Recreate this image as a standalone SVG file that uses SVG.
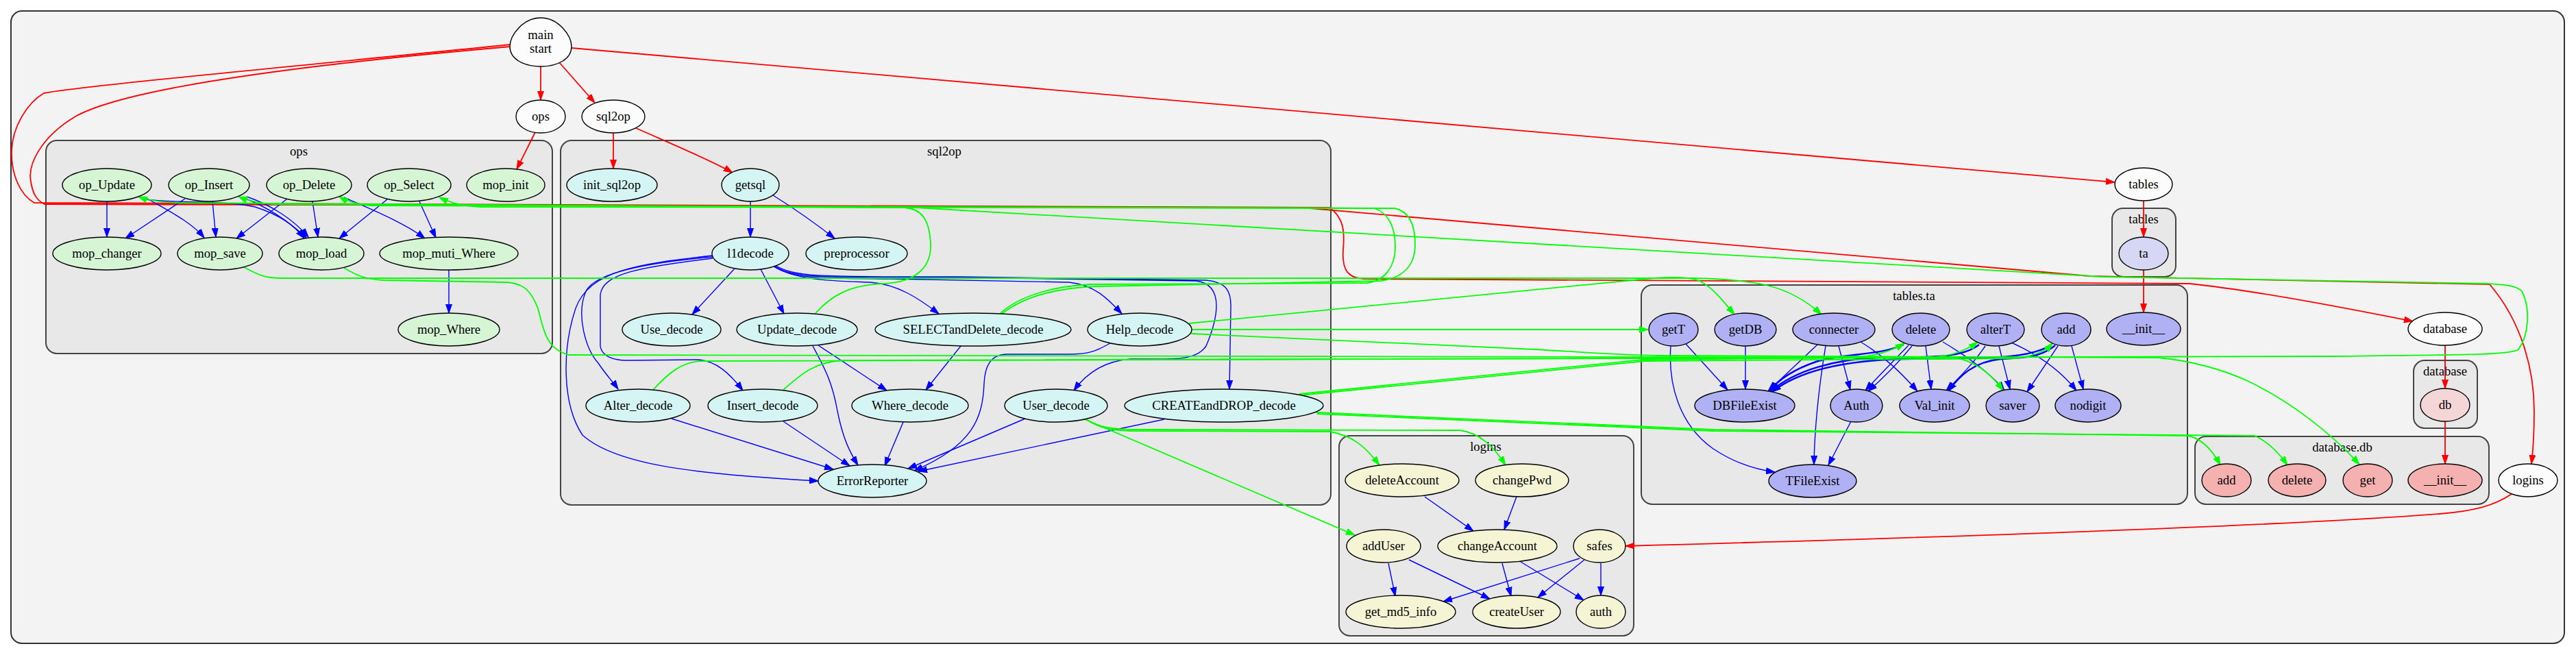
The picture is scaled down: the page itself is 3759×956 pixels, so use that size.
<svg xmlns="http://www.w3.org/2000/svg" width="3759" height="956" viewBox="0 0 3759 956">
<defs>
<marker id="mr" markerUnits="userSpaceOnUse" markerWidth="14" markerHeight="10" refX="13" refY="5" orient="auto" viewBox="0 0 14 10"><path d="M0,0.5L13,5L0,9.5z" fill="#ff0000" stroke="#ff0000"/></marker>
<marker id="mb" markerUnits="userSpaceOnUse" markerWidth="14" markerHeight="10" refX="13" refY="5" orient="auto" viewBox="0 0 14 10"><path d="M0,0.5L13,5L0,9.5z" fill="#0000ff" stroke="#0000ff"/></marker>
<marker id="mg" markerUnits="userSpaceOnUse" markerWidth="14" markerHeight="10" refX="13" refY="5" orient="auto" viewBox="0 0 14 10"><path d="M0,0.5L13,5L0,9.5z" fill="#00ff00" stroke="#00ff00"/></marker>
</defs>
<style>
text{font-family:"Liberation Serif","Times New Roman",serif;font-size:18.67px;text-anchor:middle;fill:#000}
.cl{stroke:#444;stroke-width:2}
.outer{fill:#f3f3f3;stroke:#333;stroke-width:2}
.inner{fill:#e8e8e8}
ellipse,.egg{stroke:#000;stroke-width:1.4}
.w{fill:#fcfcfc}
.op{fill:#d5f5d5}
.sq{fill:#d5f5f5}
.ta{fill:#b0b0f5}
.ta0{fill:#d6d6f5}
.lg{fill:#f5f5d5}
.db{fill:#f5b0b0}
.db0{fill:#f5d6d6}
#edges path{fill:none}
.r{stroke:#ff0000;stroke-width:1.8;marker-end:url(#mr)}
.b{stroke:#0000ff;stroke-width:1.4;marker-end:url(#mb)}
.bt{stroke:#0000ff;stroke-width:2.4;marker-end:url(#mb)}
.g{stroke:#00ff00;stroke-width:1.8;marker-end:url(#mg)}
</style>
<rect width="3759" height="956" fill="#ffffff"/>
<g id="clusters">
<rect class="outer" x="16" y="16" width="3726" height="923" rx="16"/>
<g id="cluster_ops"><rect class="cl inner" x="67" y="205" width="739" height="311" rx="16"/><text x="436" y="227">ops</text></g>
<g id="cluster_sql2op"><rect class="cl inner" x="818" y="205" width="1124" height="532" rx="16"/><text x="1378" y="227">sql2op</text></g>
<g id="cluster_tables"><rect class="cl inner" x="3082" y="304" width="93" height="100" rx="16"/><text x="3128" y="326">tables</text></g>
<g id="cluster_tables_ta"><rect class="cl inner" x="2395" y="416" width="797" height="320" rx="16"/><text x="2793" y="438">tables.ta</text></g>
<g id="cluster_logins"><rect class="cl inner" x="1954" y="636" width="430" height="292" rx="16"/><text x="2168" y="658">logins</text></g>
<g id="cluster_database"><rect class="cl inner" x="3522" y="526" width="93" height="99" rx="16"/><text x="3568" y="548">database</text></g>
<g id="cluster_database_db"><rect class="cl inner" x="3203" y="637" width="429" height="99" rx="16"/><text x="3418" y="659">database.db</text></g>
</g>
<g id="edges">
<!-- red -->
<path class="r" d="M789,97L789,146"/>
<path class="r" d="M816,91L868,150"/>
<path class="r" d="M781,193L754,247"/>
<path class="r" d="M895,194L895,246"/>
<path class="r" d="M928,187C980,210 1040,235 1069,252"/>
<path class="r" d="M834,70L3086,266"/>
<path class="r" d="M3128,293L3128,346"/>
<path class="r" d="M3128,394L3128,456"/>
<path class="r" d="M3568,504L3568,567"/>
<path class="r" d="M3568,615L3568,677"/>
<path class="r" d="M3665,721C3640,738 3610,746 3560,750C3300,770 2700,788 2372,797"/>
<path class="r" d="M745,65C500,90 120,125 64,136C40,150 18,185 17,220C16,255 30,285 50,296C150,300 1000,301 1940,303C1962,318 1962,340 1960,365C1958,395 1968,406 1990,407L3195,414C3300,425 3450,455 3521,469"/>
<path class="r" d="M745,68C550,85 200,120 110,170C60,200 40,240 45,265C48,285 55,293 65,298C200,301 1000,302 1900,303L3050,403C3300,409 3600,413 3633,415C3680,470 3698,540 3698,600C3698,640 3696,660 3694,677"/>
<!-- blue ops -->
<path class="b" d="M156,294L156,346"/>
<path class="b" d="M215,290C250,310 280,325 298,347"/>
<path class="b" d="M213,291C255,297 330,292 372,302C410,314 430,330 444,348"/>
<path class="b" d="M270,290L183,348"/>
<path class="b" d="M310,294L315,346"/>
<path class="b" d="M356,289C390,302 420,322 447,347"/>
<path class="b" d="M360,287C395,299 428,320 450,346"/>
<path class="b" d="M418,291L345,348"/>
<path class="b" d="M456,294L464,346"/>
<path class="b" d="M502,288C540,305 590,325 620,348"/>
<path class="b" d="M565,291L495,348"/>
<path class="b" d="M612,294L636,347"/>
<path class="b" d="M655,394L655,457"/>
<!-- blue sql2op -->
<path class="b" d="M1095,294L1095,346"/>
<path class="b" d="M1128,285C1160,305 1195,330 1218,348"/>
<path class="b" d="M1072,392L1010,459"/>
<path class="b" d="M1110,393L1144,458"/>
<path class="b" d="M1128,388C1160,410 1220,410 1270,412C1310,415 1340,435 1370,458"/>
<path class="b" d="M1129,389C1160,408 1200,406 1300,407L1560,412C1600,416 1620,440 1637,458"/>
<path class="b" d="M1130,388C1160,407 1200,405 1400,405L1745,410C1790,415 1775,470 1760,505C1750,520 1730,524 1700,524L1650,524C1610,527 1585,545 1567,570"/>
<path class="b" d="M1131,387C1160,405 1200,404 1400,404L1760,409C1790,412 1797,425 1796,450L1794,568"/>
<path class="b" d="M1040,375C960,382 870,395 855,425C840,460 855,510 873,530C885,548 895,558 902,568"/>
<path class="b" d="M1040,377C930,390 880,400 876,430L876,505C878,520 895,526 915,526L1020,525C1045,527 1065,545 1084,570"/>
<path class="b" d="M1040,373C930,385 860,395 840,450C820,510 820,590 850,635C900,680 1020,692 1194,702"/>
<path class="b" d="M1194,504L1294,570"/>
<path class="b" d="M1186,505C1205,540 1215,560 1222,600C1230,640 1240,660 1252,679"/>
<path class="b" d="M1402,505L1351,569"/>
<path class="b" d="M1620,501C1600,512 1590,517 1560,517L1470,517C1445,517 1437,535 1436,560C1434,610 1420,650 1334,687"/>
<path class="b" d="M980,611L1216,685"/>
<path class="b" d="M1143,615L1240,680"/>
<path class="b" d="M1318,616L1291,680"/>
<path class="b" d="M1496,611L1325,684"/>
<path class="b" d="M1699,612L1340,688"/>
<!-- blue tables.ta -->
<path class="b" d="M2460,502L2521,569"/>
<path class="b" d="M2438,505C2434,560 2450,620 2500,655C2530,675 2560,685 2590,689"/>
<path class="b" d="M2547,505L2547,568"/>
<path class="b" d="M2652,503L2580,571"/>
<path class="b" d="M2683,505L2700,569"/>
<path class="b" d="M2664,505C2655,560 2648,620 2647,678"/>
<path class="b" d="M2715,499C2750,520 2775,545 2798,571"/>
<path class="bt" d="M2778,503C2740,520 2690,515 2650,528C2615,540 2595,555 2582,570"/>
<path class="bt" d="M2888,503C2860,525 2810,520 2740,522C2680,524 2620,540 2584,571"/>
<path class="bt" d="M2994,503C2960,525 2900,522 2780,524C2680,526 2620,545 2586,572"/>
<path class="b" d="M2785,504C2760,530 2740,550 2722,570"/>
<path class="b" d="M2790,505C2768,532 2748,552 2726,571"/>
<path class="b" d="M2810,505L2818,568"/>
<path class="b" d="M2835,499C2870,520 2905,545 2925,570"/>
<path class="b" d="M2897,505C2880,530 2860,550 2840,570"/>
<path class="b" d="M2917,505L2933,568"/>
<path class="b" d="M2935,500C2980,520 3010,545 3030,570"/>
<path class="bt" d="M2999,504C2980,520 2960,522 2920,524C2880,528 2860,548 2843,571"/>
<path class="b" d="M3003,505L2958,572"/>
<path class="b" d="M3023,505L3040,568"/>
<path class="b" d="M2701,615L2668,679"/>
<!-- blue logins -->
<path class="b" d="M2079,725L2150,775"/>
<path class="b" d="M2213,725L2195,773"/>
<path class="b" d="M2026,822L2036,870"/>
<path class="b" d="M2056,817L2174,874"/>
<path class="b" d="M2192,822L2205,870"/>
<path class="b" d="M2219,820L2311,876"/>
<path class="b" d="M2305,815L2106,878"/>
<path class="b" d="M2312,817L2244,872"/>
<path class="b" d="M2336,822L2336,869"/>
<!-- green -->
<path class="g" d="M1190,457C1215,430 1240,416 1290,414C1330,412 1360,395 1358,355C1356,320 1345,305 1320,303L260,296C235,295 215,292 202,287"/>
<path class="g" d="M1143,569C1170,545 1190,528 1231,526L3400,520C3600,518 3665,518 3675,510C3690,490 3693,450 3680,425C3672,416 3650,415 3630,414L3069,404L1336,303L400,298C380,297 360,292 348,287"/>
<path class="g" d="M953,569C975,545 995,528 1023,527L2800,522C2840,522 2865,515 2886,499"/>
<path class="g" d="M1460,457C1490,430 1540,418 1590,415L1995,413C2020,410 2036,390 2036,360C2036,330 2025,310 2005,304L1400,302L540,300C520,298 505,293 495,287"/>
<path class="g" d="M1462,458C1495,432 1545,420 1600,418L2015,410C2050,405 2065,385 2065,357C2065,325 2055,308 2035,304L1500,303L700,302C670,300 655,295 641,288"/>
<path class="g" d="M1739,481L2405,481"/>
<path class="g" d="M1735,472L2413,406C2440,404 2465,404 2480,410C2500,420 2515,440 2531,459"/>
<path class="g" d="M1738,487L2240,510C2300,513 2350,518 2420,519L3150,522C3200,527 3240,538 3280,556C3340,585 3400,630 3443,678"/>
<path class="g" d="M356,390C375,400 385,406 410,406L2470,406C2560,408 2610,415 2658,459"/>
<path class="g" d="M502,391C520,402 535,408 560,409L740,412C765,414 775,425 785,450C795,490 800,510 830,518L2850,522C2880,525 2905,545 2923,570"/>
<path class="g" d="M1896,575C2000,565 2200,545 2398,525L2700,522C2740,520 2760,512 2779,501"/>
<path class="g" d="M1897,577C2000,566 2200,547 2400,527L2940,523C2970,520 2985,512 2995,501"/>
<path class="g" d="M1921,602L2500,627L3192,636C3215,640 3230,660 3240,679"/>
<path class="g" d="M1922,604L2500,629L3290,636C3310,645 3325,660 3338,679"/>
<path class="g" d="M1583,612L1977,781"/>
<path class="g" d="M1585,612C1600,622 1615,628 1650,629L1940,630C1975,635 1995,655 2013,679"/>
<path class="g" d="M1586,613C1600,622 1620,627 1660,627L2130,628C2160,632 2180,652 2197,679"/>
</g>
<g id="nodes">
<g id="main_start"><path class="egg w" d="M789,26C815,26 834,52 834,68C834,86 814,97 789,97C764,97 744,86 744,68C744,52 763,26 789,26Z"/><text x="789" y="57">main</text><text x="789" y="77">start</text></g>
<g id="n_ops"><ellipse class="w" cx="789" cy="170" rx="36" ry="24"/><text x="789" y="176">ops</text></g>
<g id="n_sql2op"><ellipse class="w" cx="895" cy="170" rx="46" ry="24"/><text x="895" y="176">sql2op</text></g>
<g id="n_tables"><ellipse class="w" cx="3128" cy="269" rx="42" ry="24"/><text x="3128" y="275">tables</text></g>
<g id="n_database"><ellipse class="w" cx="3568" cy="480" rx="54" ry="24"/><text x="3568" y="486">database</text></g>
<g id="n_logins"><ellipse class="w" cx="3689" cy="701" rx="43" ry="24"/><text x="3689" y="707">logins</text></g>
<g id="op_Update"><ellipse class="op" cx="156" cy="270" rx="65" ry="24"/><text x="156" y="276">op_Update</text></g>
<g id="op_Insert"><ellipse class="op" cx="305" cy="270" rx="59" ry="24"/><text x="305" y="276">op_Insert</text></g>
<g id="op_Delete"><ellipse class="op" cx="451" cy="270" rx="62" ry="24"/><text x="451" y="276">op_Delete</text></g>
<g id="op_Select"><ellipse class="op" cx="597" cy="270" rx="61" ry="24"/><text x="597" y="276">op_Select</text></g>
<g id="mop_init"><ellipse class="op" cx="738" cy="270" rx="57" ry="24"/><text x="738" y="276">mop_init</text></g>
<g id="mop_changer"><ellipse class="op" cx="156" cy="370" rx="79" ry="24"/><text x="156" y="376">mop_changer</text></g>
<g id="mop_save"><ellipse class="op" cx="321" cy="370" rx="62" ry="24"/><text x="321" y="376">mop_save</text></g>
<g id="mop_load"><ellipse class="op" cx="469" cy="370" rx="62" ry="24"/><text x="469" y="376">mop_load</text></g>
<g id="mop_muti_Where"><ellipse class="op" cx="655" cy="370" rx="101" ry="24"/><text x="655" y="376">mop_muti_Where</text></g>
<g id="mop_Where"><ellipse class="op" cx="655" cy="481" rx="74" ry="24"/><text x="655" y="487">mop_Where</text></g>
<g id="init_sql2op"><ellipse class="sq" cx="893" cy="270" rx="66" ry="24"/><text x="893" y="276">init_sql2op</text></g>
<g id="getsql"><ellipse class="sq" cx="1095" cy="270" rx="42" ry="24"/><text x="1095" y="276">getsql</text></g>
<g id="l1decode"><ellipse class="sq" cx="1095" cy="370" rx="56" ry="24"/><text x="1095" y="376">l1decode</text></g>
<g id="preprocessor"><ellipse class="sq" cx="1250" cy="370" rx="74" ry="24"/><text x="1250" y="376">preprocessor</text></g>
<g id="Use_decode"><ellipse class="sq" cx="980" cy="481" rx="72" ry="24"/><text x="980" y="487">Use_decode</text></g>
<g id="Update_decode"><ellipse class="sq" cx="1163" cy="481" rx="88" ry="24"/><text x="1163" y="487">Update_decode</text></g>
<g id="SELECTandDelete_decode"><ellipse class="sq" cx="1420" cy="481" rx="143" ry="24"/><text x="1420" y="487">SELECTandDelete_decode</text></g>
<g id="Help_decode"><ellipse class="sq" cx="1663" cy="481" rx="76" ry="24"/><text x="1663" y="487">Help_decode</text></g>
<g id="Alter_decode"><ellipse class="sq" cx="931" cy="592" rx="76" ry="24"/><text x="931" y="598">Alter_decode</text></g>
<g id="Insert_decode"><ellipse class="sq" cx="1113" cy="592" rx="80" ry="24"/><text x="1113" y="598">Insert_decode</text></g>
<g id="Where_decode"><ellipse class="sq" cx="1328" cy="592" rx="85" ry="24"/><text x="1328" y="598">Where_decode</text></g>
<g id="User_decode"><ellipse class="sq" cx="1541" cy="592" rx="75" ry="24"/><text x="1541" y="598">User_decode</text></g>
<g id="CREATEandDROP_decode"><ellipse class="sq" cx="1786" cy="592" rx="145" ry="24"/><text x="1786" y="598">CREATEandDROP_decode</text></g>
<g id="ErrorReporter"><ellipse class="sq" cx="1273" cy="702" rx="79" ry="24"/><text x="1273" y="708">ErrorReporter</text></g>
<g id="ta"><ellipse class="ta0" cx="3128" cy="370" rx="36" ry="24"/><text x="3128" y="376">ta</text></g>
<g id="getT"><ellipse class="ta" cx="2442" cy="481" rx="36" ry="24"/><text x="2442" y="487">getT</text></g>
<g id="getDB"><ellipse class="ta" cx="2547" cy="481" rx="45" ry="24"/><text x="2547" y="487">getDB</text></g>
<g id="connecter"><ellipse class="ta" cx="2676" cy="481" rx="60" ry="24"/><text x="2676" y="487">connecter</text></g>
<g id="ta_delete"><ellipse class="ta" cx="2803" cy="481" rx="42" ry="24"/><text x="2803" y="487">delete</text></g>
<g id="alterT"><ellipse class="ta" cx="2912" cy="481" rx="42" ry="24"/><text x="2912" y="487">alterT</text></g>
<g id="ta_add"><ellipse class="ta" cx="3015" cy="481" rx="36" ry="24"/><text x="3015" y="487">add</text></g>
<g id="ta_init"><ellipse class="ta" cx="3128" cy="480" rx="54" ry="24"/><text x="3128" y="486">__init__</text></g>
<g id="DBFileExist"><ellipse class="ta" cx="2546" cy="592" rx="73" ry="24"/><text x="2546" y="598">DBFileExist</text></g>
<g id="Auth"><ellipse class="ta" cx="2709" cy="592" rx="38" ry="24"/><text x="2709" y="598">Auth</text></g>
<g id="Val_init"><ellipse class="ta" cx="2823" cy="592" rx="51" ry="24"/><text x="2823" y="598">Val_init</text></g>
<g id="saver"><ellipse class="ta" cx="2937" cy="592" rx="39" ry="24"/><text x="2937" y="598">saver</text></g>
<g id="nodigit"><ellipse class="ta" cx="3047" cy="592" rx="48" ry="24"/><text x="3047" y="598">nodigit</text></g>
<g id="TFileExist"><ellipse class="ta" cx="2645" cy="702" rx="64" ry="24"/><text x="2645" y="708">TFileExist</text></g>
<g id="deleteAccount"><ellipse class="lg" cx="2046" cy="701" rx="83" ry="24"/><text x="2046" y="707">deleteAccount</text></g>
<g id="changePwd"><ellipse class="lg" cx="2221" cy="701" rx="68" ry="24"/><text x="2221" y="707">changePwd</text></g>
<g id="addUser"><ellipse class="lg" cx="2019" cy="797" rx="54" ry="24"/><text x="2019" y="803">addUser</text></g>
<g id="changeAccount"><ellipse class="lg" cx="2185" cy="797" rx="87" ry="24"/><text x="2185" y="803">changeAccount</text></g>
<g id="safes"><ellipse class="lg" cx="2334" cy="797" rx="38" ry="24"/><text x="2334" y="803">safes</text></g>
<g id="get_md5_info"><ellipse class="lg" cx="2044" cy="893" rx="80" ry="24"/><text x="2044" y="899">get_md5_info</text></g>
<g id="createUser"><ellipse class="lg" cx="2213" cy="893" rx="64" ry="24"/><text x="2213" y="899">createUser</text></g>
<g id="auth"><ellipse class="lg" cx="2336" cy="893" rx="36" ry="24"/><text x="2336" y="899">auth</text></g>
<g id="db"><ellipse class="db0" cx="3568" cy="591" rx="36" ry="24"/><text x="3568" y="597">db</text></g>
<g id="db_add"><ellipse class="db" cx="3249" cy="701" rx="36" ry="24"/><text x="3249" y="707">add</text></g>
<g id="db_delete"><ellipse class="db" cx="3352" cy="701" rx="42" ry="24"/><text x="3352" y="707">delete</text></g>
<g id="db_get"><ellipse class="db" cx="3455" cy="701" rx="36" ry="24"/><text x="3455" y="707">get</text></g>
<g id="db_init"><ellipse class="db" cx="3568" cy="701" rx="54" ry="24"/><text x="3568" y="707">__init__</text></g>
</g>
</svg>
